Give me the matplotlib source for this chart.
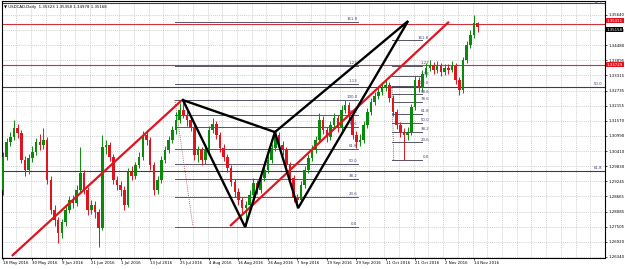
import matplotlib.pyplot as plt
import numpy as np

# daily candles, 18 May 2016 .. 15 Nov 2016
opens = [1.2891, 1.3018, 1.3076, 1.3095, 1.3130, 1.3110, 1.3007, 1.2968, 1.3014, 1.3038,
         1.3076, 1.3064, 1.3084, 1.2930, 1.2815, 1.2776, 1.2726, 1.2768, 1.2815, 1.2853,
         1.2841, 1.2891, 1.2957, 1.2891, 1.2815, 1.2834, 1.2807, 1.2745, 1.3057, 1.3064,
         1.3018, 1.2930, 1.2911, 1.2891, 1.2834, 1.2961, 1.2945, 1.2988, 1.3018, 1.3103,
         1.3084, 1.2988, 1.2891, 1.2930, 1.3007, 1.3045, 1.3084, 1.3122, 1.3160, 1.3199,
         1.3180, 1.3160, 1.3134, 1.3026, 1.3045, 1.3007, 1.3045, 1.3122, 1.3145, 1.3103,
         1.3053, 1.3018, 1.2976, 1.2922, 1.2884, 1.2853, 1.2822, 1.2834, 1.2872, 1.2918,
         1.2891, 1.2938, 1.2968, 1.3007, 1.3053, 1.3103, 1.3064, 1.3045, 1.2988, 1.2938,
         1.2861, 1.2853, 1.2911, 1.2968, 1.3014, 1.3045, 1.3084, 1.3160, 1.3122, 1.3095,
         1.3141, 1.3168, 1.3130, 1.3199, 1.3218, 1.3180, 1.3103, 1.3076, 1.3084, 1.3141,
         1.3191, 1.3230, 1.3253, 1.3268, 1.3283, 1.3295, 1.3245, 1.3191, 1.3141, 1.3114,
         1.3103, 1.3114, 1.3210, 1.3314, 1.3283, 1.3337, 1.3360, 1.3372, 1.3353, 1.3368,
         1.3345, 1.3360, 1.3353, 1.3368, 1.3314, 1.3276, 1.3391, 1.3449, 1.3487, 1.35323]
highs = [1.3038, 1.3091, 1.3114, 1.3160, 1.3145, 1.3122, 1.3022, 1.3030, 1.3061, 1.3091,
         1.3107, 1.3130, 1.3095, 1.2945, 1.2834, 1.2788, 1.2780, 1.2830, 1.2868, 1.2872,
         1.2911, 1.3057, 1.2968, 1.2903, 1.2853, 1.2849, 1.2818, 1.3103, 1.3084, 1.3076,
         1.3030, 1.2945, 1.2926, 1.2907, 1.2976, 1.2984, 1.2999, 1.3038, 1.3118, 1.3122,
         1.3095, 1.2999, 1.2945, 1.3022, 1.3061, 1.3099, 1.3137, 1.3191, 1.3226, 1.3237,
         1.3195, 1.3176, 1.3145, 1.3061, 1.3057, 1.3061, 1.3137, 1.3168, 1.3157, 1.3114,
         1.3068, 1.3030, 1.2988, 1.2934, 1.2899, 1.2865, 1.2849, 1.2891, 1.2938, 1.2930,
         1.2953, 1.2984, 1.3022, 1.3068, 1.3122, 1.3114, 1.3080, 1.3057, 1.2999, 1.2949,
         1.2876, 1.2926, 1.2984, 1.3030, 1.3064, 1.3099, 1.3187, 1.3176, 1.3134, 1.3157,
         1.3187, 1.3180, 1.3218, 1.3237, 1.3230, 1.3191, 1.3118, 1.3107, 1.3157, 1.3207,
         1.3245, 1.3268, 1.3291, 1.3306, 1.3314, 1.3306, 1.3257, 1.3203, 1.3153, 1.3130,
         1.3134, 1.3222, 1.3330, 1.3326, 1.3353, 1.3379, 1.3391, 1.3383, 1.3387, 1.3379,
         1.3376, 1.3376, 1.3387, 1.3379, 1.3326, 1.3403, 1.3464, 1.3506, 1.3564, 1.35358]
lows = [1.2872, 1.3007, 1.3061, 1.3084, 1.3091, 1.2995, 1.2945, 1.2953, 1.2999, 1.3026,
        1.3045, 1.3049, 1.2914, 1.2799, 1.2753, 1.2688, 1.2707, 1.2753, 1.2803, 1.2822,
        1.2830, 1.2880, 1.2876, 1.2795, 1.2799, 1.2784, 1.2672, 1.2738, 1.3030, 1.3003,
        1.2914, 1.2891, 1.2868, 1.2815, 1.2826, 1.2930, 1.2934, 1.2976, 1.3007, 1.3064,
        1.2968, 1.2872, 1.2876, 1.2918, 1.2995, 1.3034, 1.3072, 1.3107, 1.3149, 1.3168,
        1.3137, 1.3118, 1.3007, 1.2999, 1.2988, 1.2991, 1.3034, 1.3110, 1.3087, 1.3038,
        1.3003, 1.2961, 1.2907, 1.2865, 1.2834, 1.2803, 1.2753, 1.2818, 1.2861, 1.2876,
        1.2880, 1.2926, 1.2957, 1.2995, 1.3041, 1.3049, 1.3026, 1.2972, 1.2922, 1.2845,
        1.2822, 1.2841, 1.2899, 1.2957, 1.3003, 1.3034, 1.3072, 1.3107, 1.3076, 1.3084,
        1.3130, 1.3114, 1.3118, 1.3187, 1.3164, 1.3087, 1.3053, 1.3061, 1.3072, 1.3130,
        1.3180, 1.3218, 1.3241, 1.3257, 1.3272, 1.3230, 1.3176, 1.3126, 1.3095, 1.3007,
        1.3084, 1.3103, 1.3199, 1.3268, 1.3272, 1.3326, 1.3349, 1.3337, 1.3341, 1.3330,
        1.3333, 1.3337, 1.3345, 1.3299, 1.3257, 1.3264, 1.3379, 1.3437, 1.3476, 1.34978]
closes = [1.3018, 1.3076, 1.3095, 1.3130, 1.3110, 1.3007, 1.2968, 1.3014, 1.3038, 1.3076,
          1.3064, 1.3084, 1.2930, 1.2815, 1.2776, 1.2726, 1.2768, 1.2815, 1.2853, 1.2841,
          1.2891, 1.2957, 1.2891, 1.2815, 1.2834, 1.2807, 1.2745, 1.3057, 1.3064, 1.3018,
          1.2930, 1.2911, 1.2891, 1.2834, 1.2961, 1.2945, 1.2988, 1.3018, 1.3103, 1.3084,
          1.2988, 1.2891, 1.2930, 1.3007, 1.3045, 1.3084, 1.3122, 1.3160, 1.3199, 1.3180,
          1.3160, 1.3134, 1.3026, 1.3045, 1.3007, 1.3045, 1.3122, 1.3145, 1.3103, 1.3053,
          1.3018, 1.2976, 1.2922, 1.2884, 1.2853, 1.2822, 1.2834, 1.2872, 1.2918, 1.2891,
          1.2938, 1.2968, 1.3007, 1.3053, 1.3103, 1.3064, 1.3045, 1.2988, 1.2938, 1.2861,
          1.2853, 1.2911, 1.2968, 1.3014, 1.3045, 1.3084, 1.3160, 1.3122, 1.3095, 1.3141,
          1.3168, 1.3130, 1.3199, 1.3218, 1.3180, 1.3103, 1.3076, 1.3084, 1.3141, 1.3191,
          1.3230, 1.3253, 1.3268, 1.3283, 1.3295, 1.3245, 1.3191, 1.3141, 1.3114, 1.3103,
          1.3114, 1.3210, 1.3314, 1.3283, 1.3337, 1.3360, 1.3372, 1.3353, 1.3368, 1.3345,
          1.3360, 1.3353, 1.3368, 1.3314, 1.3276, 1.3391, 1.3449, 1.3487, 1.3533, 1.35168]

date_labels = ["18 May 2016", "30 May 2016", "9 Jun 2016", "21 Jun 2016", "1 Jul 2016",
               "13 Jul 2016", "25 Jul 2016", "4 Aug 2016", "16 Aug 2016", "26 Aug 2016",
               "7 Sep 2016", "19 Sep 2016", "29 Sep 2016", "11 Oct 2016", "21 Oct 2016",
               "2 Nov 2016", "14 Nov 2016"]
date_bars = [0, 8, 16, 24, 32, 40, 48, 56, 64, 72, 80, 88, 96, 104, 112, 120, 128]

price_ticks = [1.26340, 1.26920, 1.27505, 1.28085, 1.28665, 1.29245, 1.29830, 1.30410,
               1.30990, 1.31570, 1.32155, 1.32735, 1.33315, 1.33895, 1.34480, 1.35060, 1.35640]

# harmonic pattern X A B C D
pat_bars = [48.9, 65.8, 73.9, 80.2, 110.1]
pat_prices = [1.3237, 1.2749, 1.3114, 1.2822, 1.3541]

# red trend lines (bar, price) pairs
trend1_bars, trend1_prices = [2.4, 48.4], [1.2638, 1.3234]
trend2_bars, trend2_prices = [61.7, 121.2], [1.2753, 1.3538]

# fibo retracements
fib_ratios = [0.0, 0.236, 0.382, 0.5, 0.618, 0.786, 0.886, 1.0, 1.13, 1.27, 1.618]
fib_labels = ["0.0", "23.6", "38.2", "50.0", "61.8", "78.6", "88.6", "100.0", "1.13", "1.27", "161.8"]
fib1_low, fib1_high = 1.2749, 1.3237
fib1_span = [46.7, 96.5]
fib1_trend_bars, fib1_trend_prices = [46.7, 51.6], [1.3237, 1.2753]
fib2_low, fib2_high = 1.3007, 1.3291
fib2_span = [105.7, 114.0]
fib2_trend_bars, fib2_trend_prices = [105.7, 106.2], [1.3291, 1.3007]

big_fib_ratios = [0.382, 0.5, 0.618]
big_fib_labels = ["38.2", "50.0", "61.8"]
big_fib_p0, big_fib_p100 = 1.46557, 1.19184

red_levels = [1.35311, 1.33729]
bid_price = 1.35158
title = "USDCAD,Daily  1.35323 1.35358 1.34978 1.35168"

W, H = 625, 269
fig = plt.figure(figsize=(W / 100, H / 100), dpi=100)
ax = fig.add_axes([2 / W, 11 / H, 603 / W, 257 / H])
ax.set_xlim(-0.27, 163.6)
ax.set_ylim(1.26301, 1.36178)

fs = 2.8
grid_col = '#c0c0c0'

# grid
for b in np.arange(0, 164, 4):
    ax.axvline(b - 0.4, color=grid_col, lw=0.5, ls=(0, (1.5, 1.5)), zorder=0)
for p in price_ticks:
    ax.axhline(p, color=grid_col, lw=0.5, ls=(0, (1.5, 1.5)), zorder=0)

# full width lines
for r, lab in zip(big_fib_ratios, big_fib_labels):
    p = big_fib_p0 + r * (big_fib_p100 - big_fib_p0)
    ax.axhline(p, color='#3c3c58', lw=0.8, zorder=1)
    if p > 1.36:
        ax.text(162.8, p, lab, fontsize=fs, color='#40407a', ha='right', va='center')
    else:
        ax.text(162.8, p + 0.0003, lab, fontsize=fs, color='#40407a', ha='right', va='bottom')
for p in red_levels:
    ax.axhline(p, color='#d03038', lw=0.8, zorder=1)

# fibo retracements
for lo, hi, span, tx in [(fib1_low, fib1_high, fib1_span, 96.3), (fib2_low, fib2_high, fib2_span, 115.8)]:
    for r, lab in zip(fib_ratios, fib_labels):
        p = lo + r * (hi - lo)
        ax.plot(span, [p, p], color='#555566', lw=0.7, zorder=1)
        ax.text(tx, p + 0.0003, lab, fontsize=fs, color='#40407a', ha='right', va='bottom')
ax.plot(fib1_trend_bars, fib1_trend_prices, color='#a04040', lw=0.6, ls=(0, (1, 1.5)), zorder=1)
ax.plot(fib2_trend_bars, fib2_trend_prices, color='#404040', lw=0.6, ls=(0, (1, 1.5)), zorder=1)

# candles
idx = np.arange(len(closes))
o = np.array(opens)
c = np.array(closes)
cols = np.where(c >= o, '#0a8a0a', '#e0141e')
ax.vlines(idx, lows, highs, colors=cols, lw=0.7, zorder=2)
body = np.where(np.abs(c - o) < 0.0002, 0.0002, c - o)
ax.bar(idx, body, bottom=o, width=0.7, color=cols, lw=0, zorder=3)

# trend lines and pattern
ax.plot(trend1_bars, trend1_prices, color='#e0141e', lw=1.6, zorder=4, solid_capstyle='butt')
ax.plot(trend2_bars, trend2_prices, color='#e0141e', lw=1.6, zorder=4, solid_capstyle='butt')
X, A, B, C, D = range(5)
for tri in [(X, A, B, X), (B, C, D, B)]:
    ax.plot([pat_bars[k] for k in tri], [pat_prices[k] for k in tri], color='black', lw=1.7,
            zorder=5, solid_joinstyle='miter')

# axes
ax.yaxis.tick_right()
ax.set_yticks(price_ticks)
ax.set_yticklabels([f"{p:.5f}" for p in price_ticks])
ax.set_xticks(date_bars)
ax.set_xticklabels(date_labels, ha='left')
ax.tick_params(axis='both', labelsize=fs, length=1.5, width=0.5, pad=1.0, colors='black')
for s in ax.spines.values():
    s.set_color('black')
    s.set_linewidth(0.8)

# price tags
tr = ax.get_yaxis_transform()
tag = dict(transform=tr, fontsize=fs, color='white', va='center', ha='left', clip_on=False)
ax.text(1.003, red_levels[0] + 0.0011, f"{red_levels[0]:.5f}",
        bbox=dict(boxstyle='square,pad=0.15', fc='#e0141e', ec='none'), **tag)
ax.text(1.003, bid_price - 0.0008, f"{bid_price:.5f}",
        bbox=dict(boxstyle='square,pad=0.15', fc='black', ec='none'), **tag)
ax.text(1.003, red_levels[1], f"{red_levels[1]:.5f}",
        bbox=dict(boxstyle='square,pad=0.15', fc='#e0141e', ec='none'), **tag)

ax.text(0.004, 0.985, "\u25bc " + title, transform=ax.transAxes, fontsize=fs, color='black',
        ha='left', va='top')

fig.savefig("out.png", dpi=100)
